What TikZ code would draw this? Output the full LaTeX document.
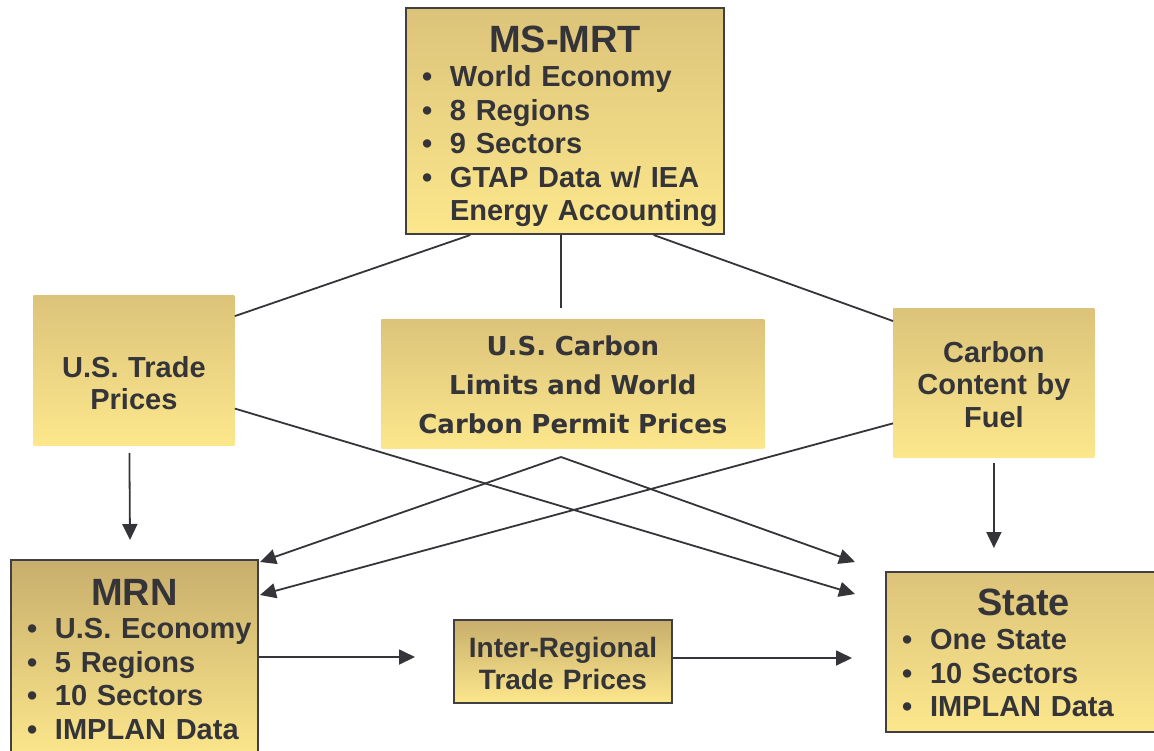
\documentclass[tikz,border=0pt]{standalone}
\usepackage{fontspec}
\setmainfont{Liberation Sans}
\newfontfamily\handfont{DejaVu Sans}
\usetikzlibrary{arrows.meta}
\usetikzlibrary{calc}

\definecolor{goldtop}{RGB}{220,195,122}
\definecolor{golddark}{RGB}{200,174,108}
\definecolor{goldbottom}{RGB}{252,231,140}
\definecolor{inkgray}{RGB}{52,52,57}
\definecolor{edgegray}{RGB}{64,64,66}

\newcommand{\itm}[1]{\mbox{\makebox[14pt][l]{\textbullet}#1}}
\newcommand{\itmcont}[1]{\mbox{\hspace*{14pt}#1}}
\newcommand{\boxtitle}[1]{\makebox[\linewidth]{\fontsize{19}{19}\selectfont #1}}

\tikzset{
  modelbox/.style={draw=edgegray, line width=1pt, top color=goldtop, bottom color=goldbottom,
    anchor=north west, inner xsep=8pt, inner ysep=0pt, align=left, text=inkgray,
    font=\bfseries\fontsize{14.5}{16.8}\selectfont},
  infobox/.style={top color=goldtop, bottom color=goldbottom, anchor=north west, inner sep=0pt,
    align=center, text=inkgray, font=\bfseries\fontsize{14.5}{16.2}\selectfont},
  link/.style={draw=inkgray, line width=0.9pt},
  feed/.style={link, -{Triangle[length=8pt,width=7.5pt]}}
}

\begin{document}
\begin{tikzpicture}[x=0.5pt, y=-0.5pt]
    \useasboundingbox (0,0) rectangle (1154,750);
    \clip (0,0) rectangle (1154,750);

    \node[modelbox, minimum width=159pt, minimum height=113pt, text width=143pt, text height=19pt] (msmrt) at (405,7)
      {\boxtitle{MS-MRT}\\ \itm{World Economy}\\ \itm{8 Regions}\\ \itm{9 Sectors}\\ \itm{GTAP Data w/ IEA}\\ \itmcont{Energy Accounting}};
    \node[modelbox, top color=golddark, minimum width=123.5pt, text width=107.5pt, inner ysep=9.5pt] (mrn) at (10,559)
      {\boxtitle{MRN}\\ \itm{U.S. Economy}\\ \itm{5 Regions}\\ \itm{10 Sectors}\\ \itm{IMPLAN Data}};
    \node[modelbox, minimum width=137.5pt, minimum height=80pt, text width=121.5pt, text height=14.4pt] (state) at (885,571)
      {\boxtitle{State}\\ \itm{One State}\\ \itm{10 Sectors}\\ \itm{IMPLAN Data}};

    \node[infobox, minimum width=100.5pt, minimum height=75pt, text width=100.5pt, text height=23pt] (ustrade) at (33,295) {U.S. Trade\\ Prices};
    \node[infobox, minimum width=191.5pt, minimum height=64.5pt, text width=191.5pt, text height=10.5pt, font=\handfont\bfseries\fontsize{13}{19.5}\selectfont] (limits) at (381,319)
      {U.S. Carbon\\ Limits and World\\ Carbon Permit Prices};
    \node[infobox, minimum width=100.5pt, minimum height=74.5pt, text width=100.5pt, text height=12pt] (fuel) at (893,308) {Carbon\\ Content by\\ Fuel};
    \node[infobox, draw=edgegray, line width=1pt, top color=golddark, minimum width=109pt, minimum height=41.5pt, text width=109pt, text height=12.5pt, font=\bfseries\fontsize{14}{16}\selectfont] (interreg) at (453,619)
      {Inter-Regional\\ Trade Prices};

    \coordinate (apex) at (561,457);
    \coordinate (limitstop) at (561,308);

    \draw[link] ($(msmrt.south west)!0.204!(msmrt.south east)$) -- ($(ustrade.north east)!0.14!(ustrade.south east)$);
    \draw[link] (apex |- msmrt.south) -- (limitstop);
    \draw[link] ($(msmrt.south west)!0.777!(msmrt.south east)$) -- ($(fuel.north west)!0.087!(fuel.south west)$);

    \draw[feed] ($(ustrade.south)+(-4.5,7)$) -- ($(mrn.north)+(-4.5,-19)$);
    \draw[feed] ($(ustrade.north east)!0.753!(ustrade.south east)$) -- ($(state.north west)+(-30,23)$);
    \draw[feed] (apex) -- ($(state.north west)+(-30,-9)$);
    \draw[feed] (apex) -- ($(mrn.north east)+(1,3)$);
    \draw[feed] ($(fuel.north west)!0.77!(fuel.south west)$) -- ($(mrn.north east)+(1,36)$);
    \draw[feed] ($(fuel.south)+(0,5)$) -- ($(fuel.south |- state.north)+(0,-23)$);
    \draw[feed] ($(mrn.east |- interreg.west)+(0,-4.5)$) -- ($(interreg.west)+(-38,-4.5)$);
    \draw[feed] ($(interreg.east)+(0,-3.5)$) -- ($(state.west |- interreg.east)+(-33,-3.5)$);
\end{tikzpicture}
\end{document}
